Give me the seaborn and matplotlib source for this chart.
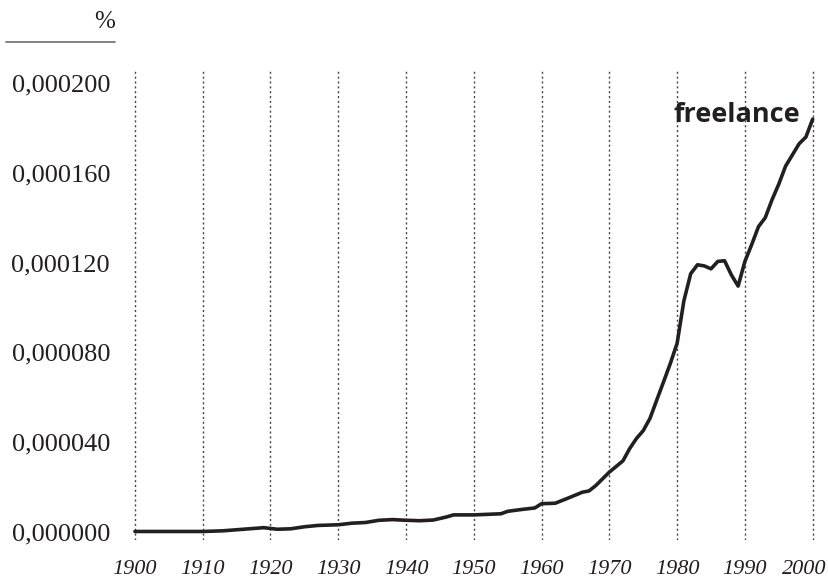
import numpy as np
import pandas as pd
import matplotlib
matplotlib.use("Agg")
import matplotlib.pyplot as plt
import matplotlib.transforms as mtransforms
from matplotlib.ticker import FuncFormatter
import seaborn as sns

# relative frequency of "freelance" (units of 1e-6 %)
years = [1900, 1905, 1910, 1913, 1916, 1919, 1921, 1923, 1925, 1927, 1930, 1932,
         1934, 1936, 1938, 1940, 1942, 1944, 1946, 1947, 1950, 1954, 1955, 1957,
         1959, 1960, 1962, 1964, 1966, 1967, 1968, 1970, 1972, 1973, 1974, 1975,
         1976, 1977, 1978, 1979, 1980, 1981, 1982, 1983, 1984, 1985, 1986, 1987,
         1988, 1989, 1990, 1991, 1992, 1993, 1994, 1995, 1996, 1997, 1998, 1999,
         2000]
freq_e6 = [0.0, 0.0, 0.0, 0.3, 1.0, 1.7, 1.0, 1.2, 2.1, 2.7, 3.0, 3.7,
           4.0, 5.0, 5.3, 5.0, 4.8, 5.1, 6.5, 7.4, 7.4, 7.9, 9.0, 9.8,
           10.5, 12.4, 12.6, 15.0, 17.5, 18.1, 20.5, 26.5, 31.5, 37.0, 41.5, 45.0,
           50.5, 58.7, 66.8, 75.0, 84.0, 103.0, 115.0, 119.0, 118.5, 117.2, 120.5, 120.8,
           114.5, 109.5, 120.5, 128.0, 136.0, 140.0, 148.0, 155.0, 163.0, 168.0, 173.0, 176.0,
           184.0]
word = "freelance"
y_ticks = [0.0, 0.00004, 0.00008, 0.00012, 0.00016, 0.0002]
x_ticks = list(range(1900, 2001, 10))

df = pd.DataFrame({"year": years, "freq": np.array(freq_e6) * 1e-6})

sns.set_style("white")
plt.rcParams["font.family"] = ["Liberation Serif", "DejaVu Serif"]

fig = plt.figure(figsize=(8.29, 5.86), dpi=100)
ax = fig.add_axes([0.1587, 0.0785, 0.8257, 0.802])

# dotted decade gridlines
for yr in x_ticks:
    ax.axvline(yr, color="#444444", lw=1.0, ls=(0, (1.5, 2.0)), zorder=1)

sns.lineplot(data=df, x="year", y="freq", ax=ax, color="#231f20", lw=2.6, zorder=3)

ax.set_xlim(1899.5, 2000.5)
ax.set_ylim(-3.8e-6, 205.9e-6)
ax.set_xticks(x_ticks)
ax.set_yticks(y_ticks)
ax.yaxis.set_major_formatter(FuncFormatter(lambda v, p: f"{v:.6f}".replace(".", ",")))
ax.set_xlabel("")
ax.set_ylabel("")
for s in ax.spines.values():
    s.set_visible(False)

ax.tick_params(axis="y", length=0, pad=15.5, labelsize=19, colors="#231f20")
ax.tick_params(axis="x", length=0, pad=14.5, labelsize=16, colors="#231f20")
for lab in ax.get_xticklabels():
    lab.set_fontstyle("italic")
# last year label pushed in so it stays on the canvas
last = ax.get_xticklabels()[-1]
last.set_transform(last.get_transform() + mtransforms.ScaledTranslation(-8 / 100, 0, fig.dpi_scale_trans))

# word label at the end of the line
ax.text(1998.1, 186e-6, word, ha="right", va="center", fontsize=19.5,
        fontweight="bold", family=["Open Sans", "DejaVu Sans"], color="#231f20", zorder=4)

# unit label with rule
fig.text(115 / 829, 1 - 22 / 586, "%", ha="right", va="center", fontsize=18, color="#231f20")
fig.add_artist(plt.Line2D([6 / 829, 115 / 829], [1 - 41.5 / 586, 1 - 41.5 / 586],
                          color="#777777", lw=1.3))

fig.savefig("out.png", dpi=100)
